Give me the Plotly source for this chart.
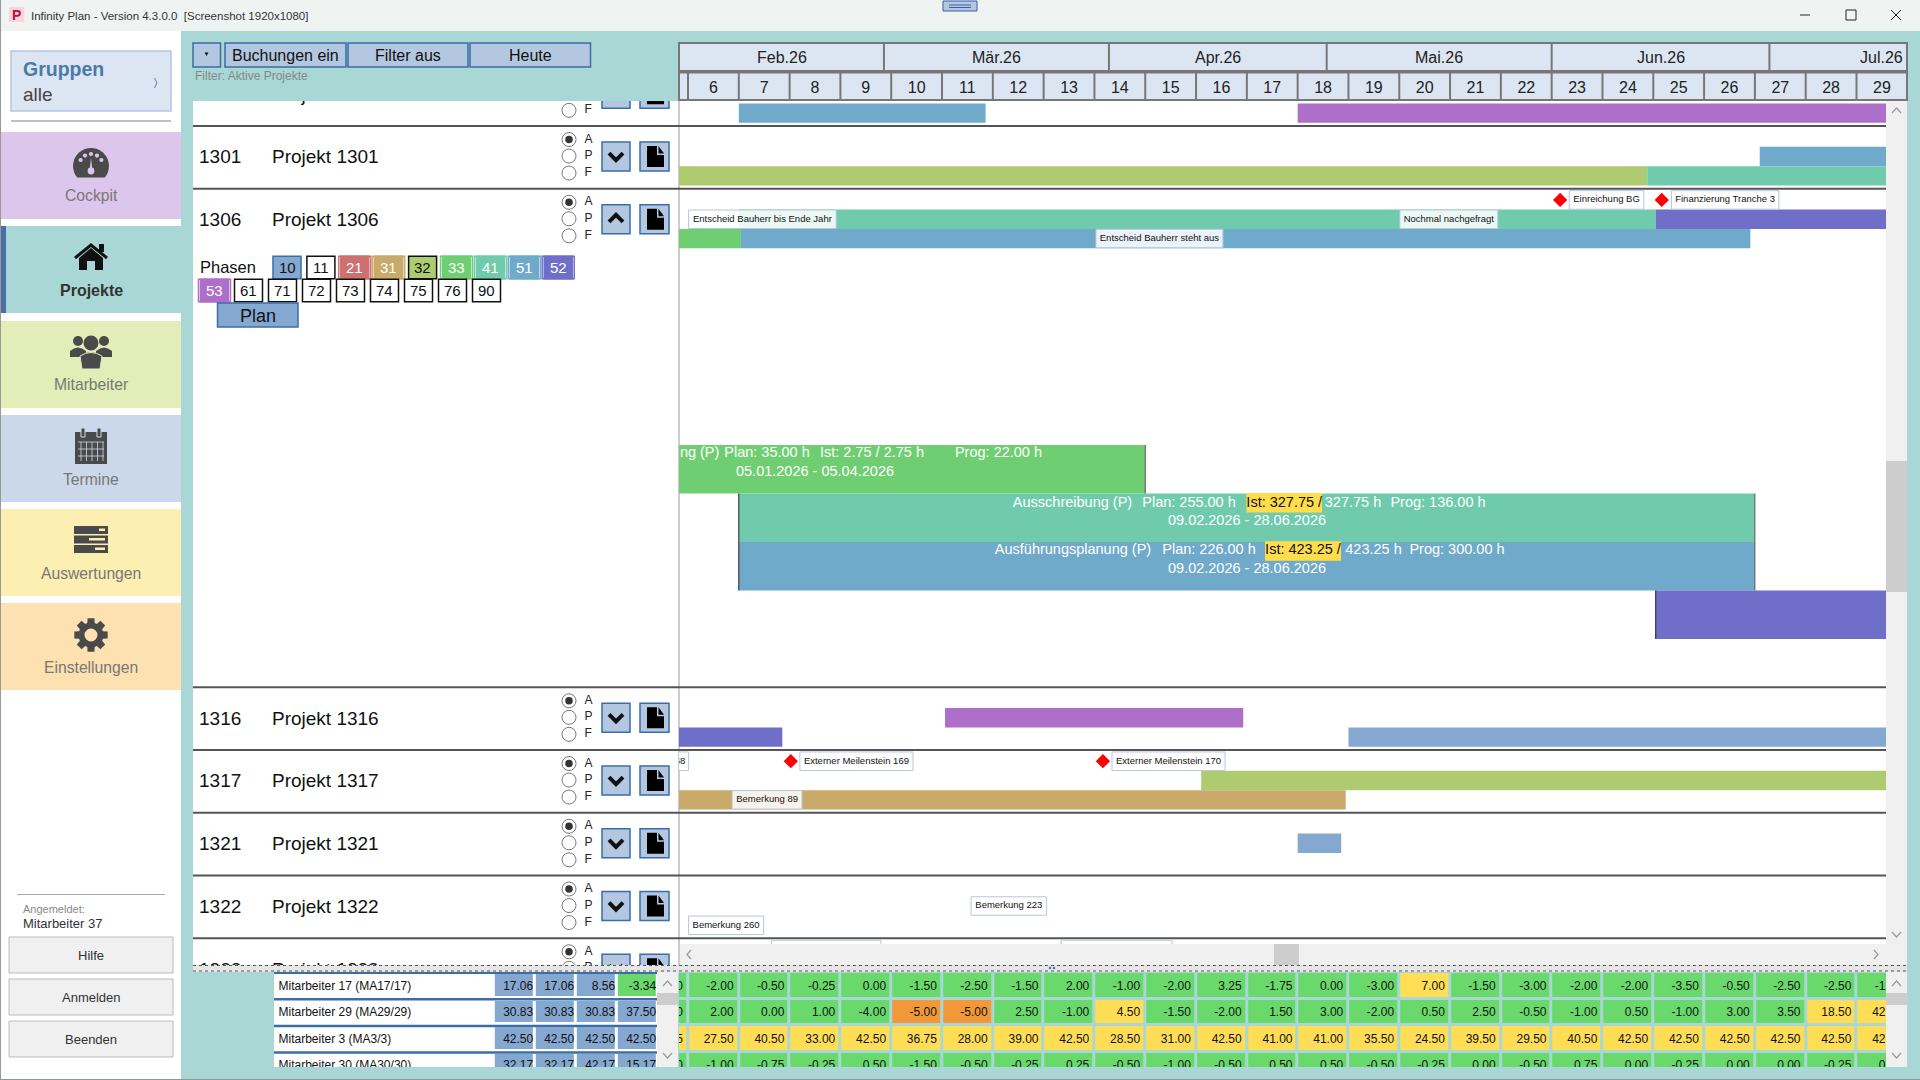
import math
import pandas as pd
import plotly.graph_objects as go

# Phase colours
phase_colors = {
    "10": "#85a8d0", "21": "#cf7070", "31": "#c9aa6b", "32": "#aecb70", "33": "#6fce72",
    "41": "#70cbac", "51": "#6faacb", "52": "#6f6fca", "53": "#ae6fca",
}

# Project rows
row_ids = [1300, 1301, 1306, 1316, 1317, 1321, 1322, 1323]

# Gantt bars
bar_row = [1300, 1300, 1301, 1301, 1301, 1306, 1306, 1306, 1306, 1316, 1316, 1316, 1317, 1317, 1321]
bar_lane = [2, 2, 1, 2, 2, 1, 1, 2, 2, 1, 2, 2, 1, 2, 1]
bar_start = ["2026-02-09", "2026-04-27", "2026-06-29 16:00", "2026-01-05", "2026-06-14 04:00", "2026-02-09", "2026-06-15 08:00",
             "2026-01-05", "2026-02-09 07:00", "2026-03-09 10:00", "2026-01-05", "2026-05-04", "2026-04-13 17:00", "2026-01-05", "2026-04-27"]
bar_end = ["2026-03-15", "2026-08-30", "2026-08-30", "2026-06-14 04:00", "2026-08-30", "2026-06-15 08:00", "2026-08-30",
           "2026-02-09 07:00", "2026-06-28 09:00", "2026-04-19 12:00", "2026-02-15", "2026-08-30", "2026-08-30", "2026-05-03 15:00", "2026-05-03"]
bar_phase = ["51", "53", "51", "32", "41", "41", "52", "33", "51", "53", "52", "10", "32", "31", "10"]

# Expanded phases of project 1306
detail_start = ["2026-01-05", "2026-02-09", "2026-02-09", "2026-06-15 08:00"]
detail_end = ["2026-04-06", "2026-06-29", "2026-06-29", "2026-08-30"]
detail_phase = ["33", "41", "51", "52"]

# Remarks on the timeline
note_row = [1306, 1306, 1306, 1306, 1306, 1317, 1317, 1317, 1317, 1322, 1322, 1323, 1323]
note_lane = [0, 0, 1, 1, 2, 0, 0, 0, 2, 1, 2, 0, 0]
note_start = ["2026-06-03 10:00", "2026-06-17 12:00", "2026-02-02 02:00", "2026-05-11 02:00", "2026-03-30 05:00",
              "2026-01-30 00:00", "2026-02-17 10:00", "2026-04-01 10:00", "2026-02-08 02:00",
              "2026-03-13 00:00", "2026-02-02 02:00", "2026-02-13 12:00", "2026-03-25 10:00"]
note_end = ["2026-06-13 17:00", "2026-07-02 07:00", "2026-02-22 10:00", "2026-05-24 14:00", "2026-04-16 17:00",
            "2026-02-02 02:00", "2026-03-05 00:00", "2026-04-17 00:00", "2026-02-17 17:00",
            "2026-03-23 10:00", "2026-02-12 10:00", "2026-02-28 14:00", "2026-04-09 17:00"]
note_text = ["Einreichung BG", "Finanzierung Tranche 3", "Entscheid Bauherr bis Ende Jahr", "Nochmal nachgefragt",
             "Entscheid Bauherr steht aus", "168", "Externer Meilenstein 169",
             "Externer Meilenstein 170", "Bemerkung 89", "Bemerkung 223", "Bemerkung 260", "Bemerkung 301", "Bemerkung 302"]

# Milestones
mile_row = [1306, 1306, 1317, 1317]
mile_date = ["2026-06-02 04:00", "2026-06-16 04:00", "2026-02-16 04:00", "2026-03-31 04:00"]

# Weeks and months in the header
week_numbers = list(range(5, 30))
week_monday = pd.date_range("2026-01-26", periods=25, freq="7D")
month_labels = ["Feb.26", "Mär.26", "Apr.26", "Mai.26", "Jun.26", "Jul.26"]
month_first = pd.to_datetime(["2026-02-01", "2026-03-01", "2026-04-01", "2026-05-01", "2026-06-01", "2026-07-01", "2026-08-01"])

# Staff load per week, weeks 5 to 29
staff_names = ["Mitarbeiter 17 (MA17/17)", "Mitarbeiter 29 (MA29/29)", "Mitarbeiter 3 (MA3/3)", "Mitarbeiter 30 (MA30/30)"]
staff_sums_1 = [17.06, 30.83, 42.50, 32.17]
staff_sums_2 = [17.06, 30.83, 42.50, 32.17]
staff_sums_3 = [8.56, 30.83, 42.50, 42.17]
staff_sums_4 = [-3.34, 37.50, 42.50, 15.17]
load_ma17 = [-1.50, -2.00, -0.50, -0.25, 0.00, -1.50, -2.50, -1.50, 2.00, -1.00, -2.00, 3.25, -1.75, 0.00, -3.00, 7.00,
             -1.50, -3.00, -2.00, -2.00, -3.50, -0.50, -2.50, -2.50, -1.50]
load_ma29 = [0.50, 2.00, 0.00, 1.00, -4.00, -5.00, -5.00, 2.50, -1.00, 4.50, -1.50, -2.00, 1.50, 3.00, -2.00, 0.50,
             2.50, -0.50, -1.00, 0.50, -1.00, 3.00, 3.50, 18.50, 42.50]
load_ma3 = [35.75, 27.50, 40.50, 33.00, 42.50, 36.75, 28.00, 39.00, 42.50, 28.50, 31.00, 42.50, 41.00, 41.00, 35.50, 24.50,
            39.50, 29.50, 40.50, 42.50, 42.50, 42.50, 42.50, 42.50, 42.50]
load_ma30 = [-0.50, -1.00, -0.75, -0.25, 0.50, -1.50, -0.50, -0.25, 0.25, -0.50, -1.00, -0.50, 0.50, 0.50, -0.50, -0.25,
             0.00, -0.50, 0.75, 0.00, -0.25, 0.00, 0.00, -0.25, 0.50]

FONT = "Liberation Sans"
TEAL = "#a8d7d5"
BTN = "#b3c7e0"
BTN_LINE = "#3a6ea5"
HEAD = "#dce6f2"
ICON = "#4a4a4a"

shapes = []
annotations = []


def rect(x0, y0, x1, y1, fill=None, line=None, lw=1, layer="below", xref="x", yref="y"):
    shapes.append(dict(type="rect", x0=x0, y0=y0, x1=x1, y1=y1, fillcolor=fill or "rgba(0,0,0,0)",
                       line=dict(color=line or "rgba(0,0,0,0)", width=lw if line else 0),
                       layer=layer, xref=xref, yref=yref))


def hline(x0, y0, x1, y1, color, lw=1, dash=None, layer="below", xref="x", yref="y"):
    shapes.append(dict(type="line", x0=x0, y0=y0, x1=x1, y1=y1, line=dict(color=color, width=lw, dash=dash or "solid"),
                       layer=layer, xref=xref, yref=yref))


def path(d, fill=None, line=None, lw=0, layer="below", xref="x", yref="y"):
    shapes.append(dict(type="path", path=d, fillcolor=fill or "rgba(0,0,0,0)",
                       line=dict(color=line or "rgba(0,0,0,0)", width=lw),
                       layer=layer, xref=xref, yref=yref))


def dot(cx, cy, r, fill, layer="below", xref="x", yref="y"):
    shapes.append(dict(type="circle", x0=cx - r, y0=cy - r, x1=cx + r, y1=cy + r, fillcolor=fill,
                       line=dict(width=0), layer=layer, xref=xref, yref=yref))


def label(x, y, text, size=13, color="#222", anchor="left", bold=False, xref="x"):
    annotations.append(dict(x=x, y=y, xref=xref, yref="y", text=f"<b>{text}</b>" if bold else text, showarrow=False,
                            xanchor=anchor, yanchor="middle", font=dict(family=FONT, size=size, color=color)))


def py(y):
    return 1 - y / 1080


# Window background
rect(0, 0, 1920, 1080, TEAL)
rect(0, 0, 1920, 31, "#eff4f2")
rect(1, 31, 181, 1079, "#ffffff")
hline(0, 0, 0, 1080, "#999999", 2)
hline(0, 1079.5, 1920, 1079.5, "#8a9a9a", 1)

# Title bar
rect(9, 7, 24.5, 22, "#fbd5de")
label(16.7, 15, "P", 14, "#b5123e", "center", True)
label(29, 15.5, "Infinity Plan - Version 4.3.0.0 &nbsp;[Screenshot 1920x1080]", 11.5, "#333")
rect(943, 1, 977, 11, BTN, "#3f5fa5", 1)
hline(949, 5, 971, 5, "#3f5fa5", 1)
hline(949, 7.5, 971, 7.5, "#3f5fa5", 1)
hline(1800, 15, 1810, 15, "#222", 1)
rect(1846, 10, 1856, 20, None, "#222", 1)
hline(1891, 10, 1901, 20, "#222", 1)
hline(1891, 20, 1901, 10, "#222", 1)

# Side bar
rect(11, 51, 171, 111, HEAD, "#b3c7e0", 1.5)
label(21, 69, "Gruppen", 19.5, "#4a7aa8", bold=True)
label(21, 94, "alle", 19, "#444")
path("M 154.5 78 L 157 83 L 154.5 88", None, "#5b7fa6", 1)
hline(11, 121, 171, 121, "#aaaaaa", 1.5)

nav_labels = ["Cockpit", "Projekte", "Mitarbeiter", "Termine", "Auswertungen", "Einstellungen"]
nav_fill = ["#dcc6ec", TEAL, "#e3edb8", "#cbd8e9", "#fdeeb1", "#fde1b0"]
nav_top = [132, 226, 321, 415, 509, 603]
nav_shift = [63.5, 64, 63.5, 64.5, 64.5, 64.5]
for name, fill, top, shift in zip(nav_labels, nav_fill, nav_top, nav_shift):
    rect(1, top, 181, top + 87, fill)
    if name == "Projekte":
        label(91, top + shift, name, 16, "#333", "center", True)
    else:
        label(91, top + shift, name, 15.7, "#777", "center")
rect(1, 226, 6, 313, "#4a6fa5")

# Cockpit gauge, a circle cut off at the bottom
dome = [(91 + 18 * math.sin(math.radians(a)), 166 - 18 * math.cos(math.radians(a))) for a in range(-130, 131, 10)]
path("M " + " L ".join(f"{x:.1f} {y:.1f}" for x, y in dome) + " Z", ICON)
for a in [-60, -30, 0, 30, 60]:
    dot(91 + 12 * math.sin(math.radians(a)), 166 - 12 * math.cos(math.radians(a)), 2.1, "#dcc6ec")
path("M 89.5 171 L 91 158 L 92.5 171 Z", "#dcc6ec")
dot(91, 171, 3.4, "#dcc6ec")

# House
path("M 79 258 L 91 248 L 103 258 L 103 270 L 95 270 L 95 261 L 87 261 L 87 270 L 79 270 Z", "#111")
path("M 75 258 L 91 245 L 107 258", None, "#111", 3)
rect(99, 244, 104, 252, "#111")

# People
for cx, cy, r, w in [(78, 341, 5, 8), (104, 341, 5, 8), (91, 343, 7.5, 11)]:
    dot(cx, cy, r, ICON)
    path(f"M {cx - w} {cy + 23 - r * 1.4} L {cx - w} {cy + r + 5} Q {cx} {cy + r - 2} {cx + w} {cy + r + 5} L {cx + w} {cy + 23 - r * 1.4} Z", ICON)
path("M 82 369 L 80 356 Q 91 349 102 356 L 100 369 Z", ICON, "#e3edb8", 1)

# Calendar
rect(75, 432, 107, 464, ICON)
for x in [83, 99]:
    rect(x - 2, 428, x + 2, 437, ICON, "#cbd8e9", 1)
for y in [442, 449, 456]:
    hline(78, y, 104, y, "#cbd8e9", 0.8)
for x in [81, 86.5, 92, 97.5, 103]:
    hline(x, 442, x, 461, "#cbd8e9", 0.8)

# Report bars
for y, x0 in zip([526, 535.5, 545], [99, 89, 95]):
    rect(74, y, 108, y + 8, ICON)
    rect(x0, y + 2.5, 105, y + 5, "#fdeeb1")

# Gear
teeth = 8
gear = []
for i in range(teeth):
    a = 2 * math.pi * i / teeth
    for da, r in [(-0.30, 12.5), (-0.20, 17), (0.20, 17), (0.30, 12.5)]:
        gear.append((91 + r * math.sin(a + da), 635 - r * math.cos(a + da)))
path("M " + " L ".join(f"{x:.1f} {y:.1f}" for x, y in gear) + " Z", ICON)
dot(91, 635, 6.5, "#fde1b0")

# Log in block
hline(17, 894.5, 165, 894.5, "#aaaaaa", 1)
label(21, 909, "Angemeldet:", 11, "#888")
label(21, 923, "Mitarbeiter 37", 13, "#333")
for name, y in zip(["Hilfe", "Anmelden", "Beenden"], [937, 979, 1021]):
    rect(9, y, 173, y + 36, "#f0f0f0", "#bbbbbb", 1)
    label(91, y + 18, name, 13, "#333", "center")

# Tool bar
rect(193, 43, 220.5, 67, BTN, BTN_LINE, 1.5)
path("M 204.5 52.5 L 208.5 52.5 L 206.5 56 Z", "#111")
for name, x0, x1 in [("Buchungen ein", 225, 346), ("Filter aus", 348, 468), ("Heute", 470, 590.5)]:
    rect(x0, 43, x1, 67, BTN, BTN_LINE, 1.5)
    label((x0 + x1) / 2, 55.5, name, 16, "#111", "center")
label(193, 76, "Filter: Aktive Projekte", 12, "#808a8a")

# Panes
rect(193, 101, 679, 965, "#ffffff")
rect(680, 101, 1886, 944, "#ffffff")
hline(679, 101, 679, 965, "#cccccc", 2)

# Project rows: all rows are the same height, except the open one
row_pitch = 62.75
open_height = 498.5
row_top = {}
y_pos = 63.3
for rid in row_ids:
    row_top[rid] = y_pos
    y_pos += open_height if rid == 1306 else row_pitch


def lane_y(rid, lane):
    return row_top[rid] + 1.5 + (lane + 0.5) * 19.3


for rid in row_ids[1:]:
    hline(193, row_top[rid], 1886, row_top[rid], "#555555", 2)

# Buttons in the list pane are clipped by its axes
list_ref = dict(xref="x4", yref="y4", layer="above")
for rid in row_ids:
    top = row_top[rid]
    rect(602, top + 16, 630, top + 45, BTN, BTN_LINE, 1.5, **list_ref)
    rect(640, top + 16, 669, top + 45, BTN, BTN_LINE, 1.5, **list_ref)
    if rid == 1306:
        path(f"M 609 {top + 33} L 616 {top + 26} L 623 {top + 33}", None, "#111", 4, **list_ref)
    else:
        path(f"M 609 {top + 27} L 616 {top + 34} L 623 {top + 27}", None, "#111", 4, **list_ref)
    path(f"M 647 {top + 20} L 657 {top + 20} L 657 {top + 29} L 664 {top + 29} L 664 {top + 41} L 647 {top + 41} Z", "#000", None, 0, **list_ref)
    path(f"M 658.5 {top + 20} L 664 {top + 27.5} L 658.5 {top + 27.5} Z", "#000", None, 0, **list_ref)

# Phase chips of the open row
chip_top = row_top[1306] + 68
label(198, chip_top + 10, "Phasen", 16.5, "#111")
chip_names = ["10", "11", "21", "31", "32", "33", "41", "51", "52", "53", "61", "71", "72", "73", "74", "75", "76", "90"]
for i, name in enumerate(chip_names):
    if i < 9:
        x0, y0 = 273 + i * 33.9, chip_top - 0.5
    else:
        x0, y0 = 200.5 + (i - 9) * 34, chip_top + 22.5
    fill = phase_colors.get(name, "#ffffff")
    edge = "#111" if name not in phase_colors or name == "32" else BTN_LINE if name == "10" else fill
    rect(x0, y0, x0 + 28, y0 + 22.5, fill, edge, 1.5)
    if name in phase_colors and name not in ("10", "32"):
        rect(x0 - 2, y0, x0 + 30, y0 + 22.5, None, fill, 1.5)
        txt = "#ffffff"
    else:
        txt = "#111"
    label(x0 + 14, y0 + 11, name, 15, txt, "center")
rect(217.5, 303, 298, 327, "#85a8d0", BTN_LINE, 1.5)
label(258, 315.5, "Plan", 18, "#111", "center")

# Timeline header
x_start = "2026-01-31 18:15"
x_end = "2026-07-19 23:00"
rect(679, 43, 1907, 71, HEAD, "#777777", 2)
rect(679, 72.5, 1907, 100, HEAD, "#777777", 2)
for m in month_first[1:-1]:
    shapes.append(dict(type="line", x0=m, x1=m, y0=py(43), y1=py(71), xref="x2", yref="paper",
                       line=dict(color="#777777", width=2), layer="above"))
for d in week_monday[1:]:
    shapes.append(dict(type="line", x0=d, x1=d, y0=py(72.5), y1=py(100), xref="x2", yref="paper",
                       line=dict(color="#777777", width=2), layer="above"))
for text, m0, m1 in zip(month_labels, month_first[:-1], month_first[1:]):
    annotations.append(dict(x=m0 + (m1 - m0) / 2, y=57, xref="x2", yref="y", text=text, showarrow=False,
                            xanchor="center", yanchor="middle", font=dict(family=FONT, size=16, color="#222")))

traces = [go.Scatter(x=[0], y=[0], mode="none", xaxis="x", yaxis="y", hoverinfo="skip")]

# Gantt bars
starts = pd.to_datetime(bar_start, format="mixed")
ends = pd.to_datetime(bar_end, format="mixed")
traces.append(go.Bar(
    orientation="h", base=bar_start,
    x=[(e - s).total_seconds() * 1000 for s, e in zip(starts, ends)],
    y=[lane_y(r, l) for r, l in zip(bar_row, bar_lane)], width=19.3,
    marker=dict(color=[phase_colors[p] for p in bar_phase], line=dict(width=0)),
    xaxis="x2", yaxis="y2", hoverinfo="skip"))

# Expanded phases
detail_top = 445
detail_h = 48.5
d_starts = pd.to_datetime(detail_start, format="mixed")
d_ends = pd.to_datetime(detail_end, format="mixed")
detail_y = [detail_top + (i + 0.5) * detail_h for i in range(len(detail_start))]
traces.append(go.Bar(
    orientation="h", base=detail_start,
    x=[(e - s).total_seconds() * 1000 for s, e in zip(d_starts, d_ends)],
    y=detail_y, width=detail_h,
    marker=dict(color=[phase_colors[p] for p in detail_phase], line=dict(width=0)),
    xaxis="x2", yaxis="y2", hoverinfo="skip"))
for s, e, y in zip(d_starts, d_ends, detail_y):
    for d, c in [(s, "#222222"), (e, "#555555")]:
        shapes.append(dict(type="line", x0=d, x1=d, y0=y - detail_h / 2, y1=y + detail_h / 2, xref="x2", yref="y2",
                           line=dict(color=c, width=1), layer="above"))

# Remark boxes with their text on top
n_starts = pd.to_datetime(note_start)
n_ends = pd.to_datetime(note_end)
note_y = [lane_y(r, l) for r, l in zip(note_row, note_lane)]
traces.append(go.Bar(
    orientation="h", base=note_start,
    x=[(e - s).total_seconds() * 1000 for s, e in zip(n_starts, n_ends)],
    y=note_y, width=18.5,
    marker=dict(color="rgba(255,255,255,0.86)", line=dict(width=1, color="#b3c7e0")),
    xaxis="x2", yaxis="y2", hoverinfo="skip"))
traces.append(go.Scatter(
    x=[s + (e - s) / 2 for s, e in zip(n_starts, n_ends)], y=note_y, text=note_text, mode="text",
    textposition="middle center", textfont=dict(family=FONT, size=9.5, color="#111"),
    xaxis="x2", yaxis="y2", hoverinfo="skip"))

# Milestones
traces.append(go.Scatter(
    x=mile_date, y=[lane_y(r, 0) for r in mile_row], mode="markers",
    marker=dict(symbol="diamond", size=11, color="#ff0000", line=dict(width=0)),
    xaxis="x2", yaxis="y2", hoverinfo="skip"))

# Text on the expanded phases, placed in screen pixels
ist_x0 = [1246.5, 1265]
ist_x1 = [1322, 1341]
ist_y = [502.7, 551]
traces.append(go.Bar(
    orientation="h", base=ist_x0, x=[b - a for a, b in zip(ist_x0, ist_x1)], y=ist_y, width=19.5,
    marker=dict(color="#ffdd4d", line=dict(width=0)), xaxis="x5", yaxis="y2", hoverinfo="skip"))
white_text = ["Vorplanung (P)", "Plan: 35.00 h", "Ist: 2.75 / 2.75 h", "Prog: 22.00 h", "05.01.2026 - 05.04.2026",
              "Ausschreibung (P)", "Plan: 255.00 h", "327.75 h", "Prog: 136.00 h", "09.02.2026 - 28.06.2026",
              "Ausführungsplanung (P)", "Plan: 226.00 h", "423.25 h", "Prog: 300.00 h", "09.02.2026 - 28.06.2026"]
white_x = [671, 767, 872, 998.5, 815,
           1072.5, 1189, 1353, 1438, 1247,
           1073, 1209, 1373.5, 1457, 1247]
white_y = [453, 453, 453, 453, 472,
           503, 503, 503, 503, 521,
           550.5, 550.5, 550.5, 550.5, 569]
traces.append(go.Scatter(
    x=white_x, y=white_y, text=white_text, mode="text", textposition="middle center",
    textfont=dict(family=FONT, size=14.5, color="#ffffff"), xaxis="x5", yaxis="y2", hoverinfo="skip"))
traces.append(go.Scatter(
    x=[(a + b) / 2 for a, b in zip(ist_x0, ist_x1)], y=[503, 550.5], text=["Ist: 327.75 /", "Ist: 423.25 /"], mode="text",
    textposition="middle center", textfont=dict(family=FONT, size=14.5, color="#111"),
    xaxis="x5", yaxis="y2", hoverinfo="skip"))

# Staff load per week
GREEN, YELLOW, ORANGE, BLUE = 0, 1, 2, 3
cell_scale = [[0.0, "#68d96a"], [0.25, "#68d96a"], [0.25, "#ffdd55"], [0.5, "#ffdd55"],
              [0.5, "#f29838"], [0.75, "#f29838"], [0.75, "#85a8d0"], [1.0, "#85a8d0"]]


def load_color(v):
    if v <= -5:
        return ORANGE
    return YELLOW if v > 4 else GREEN


load_rows = [load_ma17, load_ma29, load_ma3, load_ma30]
week_mid = [d + pd.Timedelta(hours=84) for d in week_monday]
traces.append(go.Heatmap(
    x=week_mid, y=[0, 1, 2, 3], z=[[load_color(v) for v in row] for row in load_rows],
    zmin=0, zmax=3, colorscale=cell_scale, showscale=False, xgap=3, ygap=3,
    xaxis="x2", yaxis="y3", hoverinfo="skip"))
traces.append(go.Scatter(
    x=[d + pd.Timedelta(hours=151) for row in load_rows for d in week_monday],
    y=[i + 0.05 for i, row in enumerate(load_rows) for _ in row],
    text=[f"{v:.2f}" for row in load_rows for v in row], mode="text", textposition="middle left",
    textfont=dict(family=FONT, size=12, color="#111"), xaxis="x2", yaxis="y3", hoverinfo="skip"))

# Staff table on the left
table_rows = [list(t) for t in zip(staff_sums_1, staff_sums_2, staff_sums_3, staff_sums_4)]
rect(274, 972, 657, 1067, "#ffffff")
for i in range(0, 4):
    rect(274, 971.5 + i * 26.6, 657, 974 + i * 26.6, BTN_LINE)
traces.append(go.Heatmap(
    x=[0, 1, 2, 3], y=[0, 1, 2, 3], z=[[GREEN if v < 0 else BLUE for v in row] for row in table_rows],
    zmin=0, zmax=3, colorscale=cell_scale, showscale=False, xgap=3, ygap=5,
    xaxis="x3", yaxis="y3", hoverinfo="skip"))
traces.append(go.Scatter(
    x=[c + 0.46 for row in table_rows for c in range(4)],
    y=[i + 0.05 for i, row in enumerate(table_rows) for _ in row],
    text=[f"{v:.2f}" for row in table_rows for v in row], mode="text", textposition="middle left",
    textfont=dict(family=FONT, size=12, color="#111"), xaxis="x3", yaxis="y3", hoverinfo="skip"))
traces.append(go.Scatter(
    x=[-5.75] * len(staff_names), y=[i + 0.05 for i in range(len(staff_names))], text=staff_names, mode="text",
    textposition="middle right", textfont=dict(family=FONT, size=12, color="#111"),
    xaxis="x3", yaxis="y3", hoverinfo="skip"))

# Row labels and radio buttons in the list pane
traces.append(go.Scatter(
    x=[199] * len(row_ids), y=[row_top[r] + 32.5 for r in row_ids], text=[str(r) for r in row_ids], mode="text",
    textposition="middle right", textfont=dict(family=FONT, size=19, color="#111"), xaxis="x4", yaxis="y4", hoverinfo="skip"))
traces.append(go.Scatter(
    x=[272] * len(row_ids), y=[row_top[r] + 32.5 for r in row_ids], text=[f"Projekt {r}" for r in row_ids], mode="text",
    textposition="middle right", textfont=dict(family=FONT, size=19, color="#111"), xaxis="x4", yaxis="y4", hoverinfo="skip"))
radio_offsets = [13.5, 30, 47]
traces.append(go.Scatter(
    x=[569] * 3 * len(row_ids), y=[row_top[r] + o for r in row_ids for o in radio_offsets], mode="markers",
    marker=dict(symbol="circle", size=14, color="#ffffff", line=dict(color="#777777", width=1)),
    xaxis="x4", yaxis="y4", hoverinfo="skip"))
traces.append(go.Scatter(
    x=[569] * len(row_ids), y=[row_top[r] + radio_offsets[0] for r in row_ids], mode="markers",
    marker=dict(symbol="circle", size=7.5, color="#333333", line=dict(width=0)),
    xaxis="x4", yaxis="y4", hoverinfo="skip"))
traces.append(go.Scatter(
    x=[584.5] * 3 * len(row_ids), y=[row_top[r] + o for r in row_ids for o in radio_offsets],
    text=["A", "P", "F"] * len(row_ids), mode="text", textposition="middle right",
    textfont=dict(family=FONT, size=12, color="#222"), xaxis="x4", yaxis="y4", hoverinfo="skip"))

# Scroll bars and the splitter go above the plots
top_ref = dict(layer="above")
rect(1886, 101, 1907, 944, "#f0f0f0", **top_ref)
rect(1886, 461, 1907, 592, "#cdcdcd", **top_ref)
path("M 1892 113 L 1896.5 108 L 1901 113", None, "#999999", 1.2, **top_ref)
path("M 1892 932 L 1896.5 937 L 1901 932", None, "#999999", 1.2, **top_ref)
rect(680, 944, 1907, 965, "#f0f0f0", **top_ref)
rect(1274, 944, 1299, 965, "#cdcdcd", **top_ref)
path("M 691 950 L 687 954.5 L 691 959", None, "#999999", 1.2, **top_ref)
path("M 1874 950 L 1878 954.5 L 1874 959", None, "#999999", 1.2, **top_ref)
rect(193, 965, 1907, 972, "#e6e6e6", **top_ref)
hline(193, 965.5, 1907, 965.5, "#555555", 1, "dot", **top_ref)
hline(193, 971, 1907, 971, "#555555", 1, "dot", **top_ref)
dot(1050, 968, 1.2, "#3a6ea5", **top_ref)
dot(1054, 968, 1.2, "#3a6ea5", **top_ref)
for x0 in [657, 1886]:
    rect(x0, 972, x0 + 21, 1067, "#f0f0f0", **top_ref)
    rect(x0, 993, x0 + 21, 1005, "#cdcdcd", **top_ref)
    path(f"M {x0 + 6} 986 L {x0 + 10.5} 981 L {x0 + 15} 986", None, "#999999", 1.2, **top_ref)
    path(f"M {x0 + 6} 1053 L {x0 + 10.5} 1058 L {x0 + 15} 1053", None, "#999999", 1.2, **top_ref)

hidden = dict(visible=False, showgrid=False, zeroline=False, fixedrange=True)


def px_domain(a, b):
    return [a / 1920, b / 1920]


def py_domain(a, b):
    return [1 - b / 1080, 1 - a / 1080]


fig = go.Figure(traces)
fig.update_layout(
    width=1920, height=1080, margin=dict(l=0, r=0, t=0, b=0), autosize=False,
    paper_bgcolor=TEAL, plot_bgcolor="rgba(0,0,0,0)", showlegend=False, barmode="overlay",
    font=dict(family=FONT), shapes=shapes, annotations=annotations,
    xaxis=dict(domain=[0, 1], range=[0, 1920], anchor="y", **hidden),
    yaxis=dict(domain=[0, 1], range=[1080, 0], anchor="x", **hidden),
    xaxis2=dict(domain=px_domain(679, 1907), range=[x_start, x_end], type="date", anchor="y2", side="top",
                tickmode="array", tickvals=week_mid[1:], ticktext=[str(w) for w in week_numbers[1:]],
                tickfont=dict(family=FONT, size=16, color="#222"), ticks="outside", ticklen=1, tickcolor="rgba(0,0,0,0)",
                tickangle=0, showgrid=False, zeroline=False, showline=False, fixedrange=True),
    yaxis2=dict(domain=py_domain(101, 944), range=[944, 101], anchor="x2", **hidden),
    yaxis3=dict(domain=py_domain(972, 1067), range=[3.07, -0.5], anchor="x2", **hidden),
    xaxis3=dict(domain=px_domain(274, 657), range=[-5.86, 3.48], anchor="y3", **hidden),
    xaxis4=dict(domain=px_domain(193, 679), range=[193, 679], anchor="y4", **hidden),
    yaxis4=dict(domain=py_domain(101, 965), range=[965, 101], anchor="x4", **hidden),
    xaxis5=dict(domain=px_domain(680, 1886), range=[680, 1886], anchor="y2", **hidden),
)

# The page margin would push everything 8 pixels down and right
fig.write_html("out.html", config={"displayModeBar": False}, post_script="document.body.style.margin = '0';")
